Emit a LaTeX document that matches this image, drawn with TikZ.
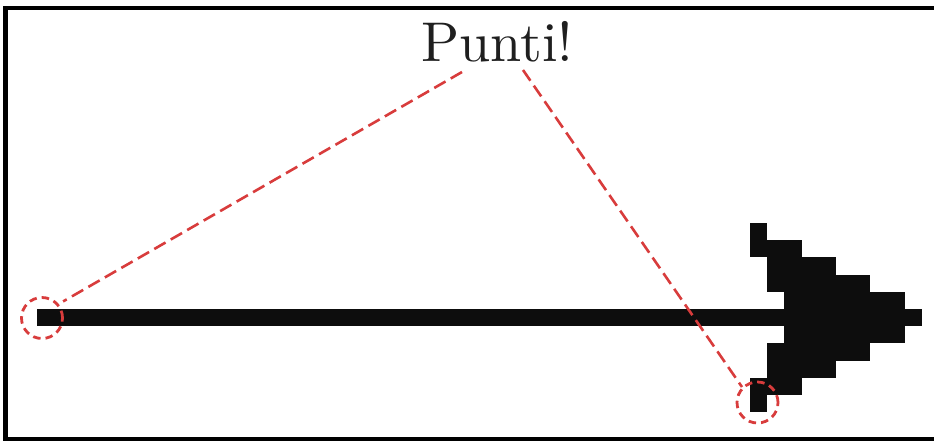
\documentclass[tikz,border=0pt]{standalone}
\usepackage{fontspec}
\usepackage{xcolor}
\newfontfamily\labelfont{lmroman10-regular}[Extension=.otf]
\definecolor{hint}{HTML}{D83C3C}
\usetikzlibrary{positioning}
\tikzset{
  pixel/.style    = {fill=black!95},
  edgeline/.style = {draw=black, line width=4.5pt},
  spot/.style     = {circle, draw=hint, line width=2.8pt, minimum size=41pt,
                     inner sep=0pt, dash pattern=on 7.5pt off 5pt},
  pointer/.style  = {draw=hint, line width=2.6pt, dash pattern=on 13pt off 6pt}
}
\newcommand{\pxsize}{17.2}
\begin{document}
\begin{tikzpicture}[x=1pt, y=-1pt]
  \useasboundingbox (0,0) rectangle (934,440);

  % border (right side cut off)
  \draw[edgeline] (934,8) -- (5.5,8) -- (5.5,439.5) -- (934,439.5);

  % shaft
  \fill[pixel] (37,309) rectangle (922,326);

  % head, column by column: column / first row / last row
  \foreach \c/\a/\b in {0/-5/-4, 0/4/5, 1/-4/-2, 1/2/4, 2/-4/4, 3/-3/3,
                        4/-3/3, 5/-2/2, 6/-2/2, 7/-1/1, 8/-1/1}
    \fill[pixel] ({750+\c*\pxsize}, {317.5+(\a-0.5)*\pxsize})
      rectangle ++(\pxsize, {(\b-\a+1)*\pxsize});

  % label and marked points
  \node[font=\labelfont\fontsize{56}{60}\selectfont, text=black!88,
        anchor=base, inner sep=2pt] (label) at (497.5,61) {Punti!};
  \node[spot] (start)  at (42,318) {};
  \node[spot] (corner) at (757.5,402.5) {};

  \coordinate (tagL) at ([xshift=-35.5pt, yshift=-11pt]label.base);
  \coordinate (tagR) at ([xshift=25.5pt, yshift=-9pt]label.base);

  \draw[pointer, shorten >=5pt] (tagL) -- (start.40);
  \draw[pointer] (tagR) -- (corner.135);
\end{tikzpicture}
\end{document}
